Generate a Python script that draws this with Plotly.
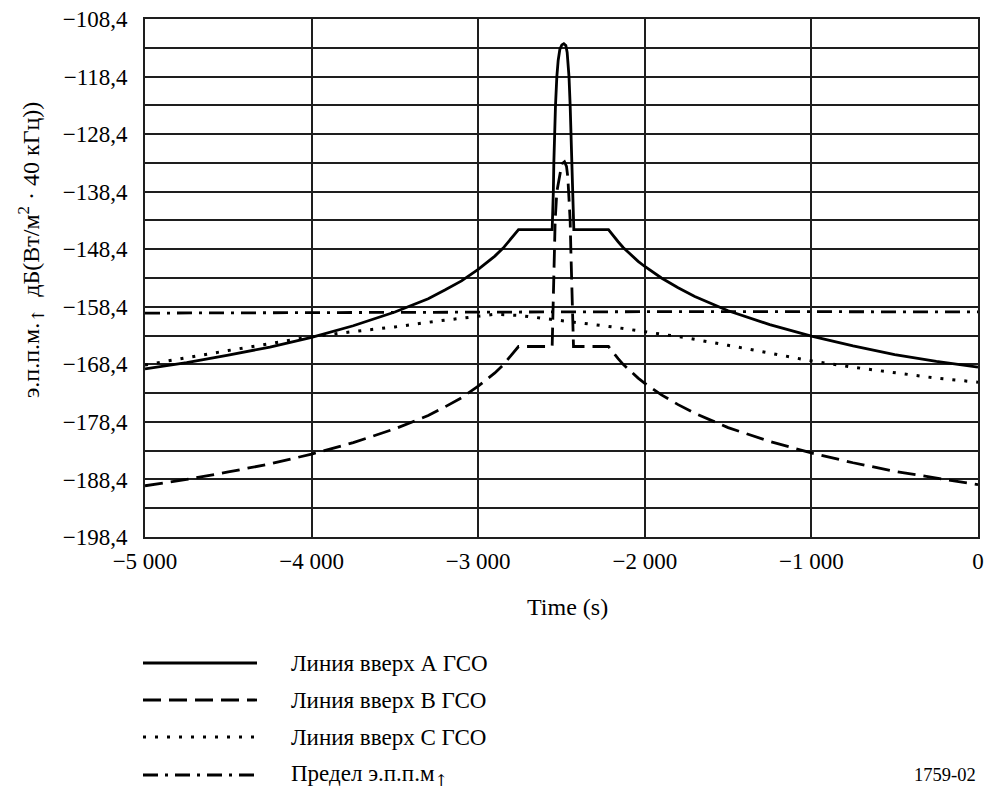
import plotly.graph_objects as go

# ---------------- data ----------------
# Series A: Линия вверх А ГСО (solid)
t_a = [-5000, -4750, -4500, -4250, -4000, -3750, -3500, -3300, -3200, -3100, -3000, -2950,
       -2900, -2850, -2820, -2790, -2758, -2556, -2552, -2549, -2546, -2542, -2536, -2528,
       -2520, -2510, -2498, -2486, -2474, -2466, -2460, -2455, -2448, -2442, -2437, -2433,
       -2429, -2426, -2218, -2190, -2160, -2130, -2090, -2040, -2000, -1900, -1800, -1700,
       -1500, -1250, -1000, -750, -500, -250, 0]
v_a = [-169.2, -168.1, -166.8, -165.4, -163.7, -161.7, -159.3, -157.0, -155.5, -153.9, -151.9, -150.8,
       -149.6, -148.2, -147.2, -146.2, -145.0, -145.0, -142.0, -138.4, -133.4, -128.4, -123.4, -118.4,
       -115.6, -113.7, -112.9, -112.7, -113.0, -114.2, -116.2, -118.4, -123.4, -128.4, -133.4, -138.4,
       -142.0, -145.0, -145.0, -146.1, -147.1, -148.1, -149.2, -150.5, -151.4, -153.4, -155.1, -156.6,
       -159.1, -161.5, -163.5, -165.2, -166.7, -167.9, -168.9]

# Series B: Линия вверх B ГСО (dashed)
t_b = [-5000, -4750, -4500, -4250, -4000, -3750, -3500, -3300, -3200, -3100, -3000, -2950,
       -2900, -2850, -2820, -2790, -2758, -2556, -2553, -2548, -2546, -2541, -2538, -2528,
       -2514, -2498, -2482, -2470, -2462, -2456, -2448, -2444, -2440, -2434, -2430, -2428,
       -2218, -2190, -2160, -2130, -2090, -2040, -2000, -1900, -1800, -1700, -1500, -1250,
       -1000, -750, -500, -250, 0]
v_b = [-189.5, -188.4, -187.1, -185.7, -184.0, -182.0, -179.6, -177.3, -175.8, -174.2, -172.2, -171.1,
       -169.9, -168.5, -167.5, -166.5, -165.3, -165.3, -162.0, -158.4, -153.4, -148.4, -143.4, -138.4,
       -135.9, -133.6, -133.2, -134.0, -135.9, -138.4, -143.4, -148.4, -153.4, -158.4, -162.0, -165.3,
       -165.3, -166.4, -167.4, -168.4, -169.5, -170.8, -171.7, -173.7, -175.4, -176.9, -179.4, -181.8,
       -183.8, -185.5, -187.0, -188.2, -189.3]

# Series C: Линия вверх C ГСО (dotted)
t_c = [-5000, -4750, -4500, -4250, -4000, -3750, -3500, -3250, -3000, -2900, -2754, -2624,
       -2474, -2334, -2196, -2046, -1904, -1750, -1500, -1250, -1000, -750, -500, -250, 0]
v_c = [-168.5, -167.2, -166.0, -164.8, -163.6, -162.7, -161.9, -160.9, -160.0, -159.7, -159.9, -160.4,
       -160.9, -161.4, -161.9, -162.5, -163.1, -163.8, -165.1, -166.5, -167.8, -168.9, -169.9, -170.8, -171.5]

# Limit: Предел э.п.п.м↑ (dash-dot)
t_d = [-5000, -4000, -3000, -2000, -1000, 0]
v_d = [-159.5, -159.4, -159.3, -159.25, -159.25, -159.3]

x_tickvals = [-5000, -4000, -3000, -2000, -1000, 0]
x_ticktext = ["−5 000", "−4 000", "−3 000", "−2 000", "−1 000", "0"]
y_gridvals = [-198.4 + 5 * i for i in range(19)]
y_ticktext = [("−%.1f" % abs(v)).replace(".", ",") if i % 2 == 0 else "" for i, v in enumerate(y_gridvals)]

ARROW = "<span style=\"font-family:'DejaVu Serif'\">↑</span>"
legend_names = ["Линия вверх А ГСО", "Линия вверх В ГСО", "Линия вверх С ГСО",
                "Предел э.п.п.м<sub>" + ARROW + "</sub>"]

# ---------------- styles ----------------
FONT = "Liberation Serif, Times New Roman, serif"
styles = [
    dict(width=2.8, dash="solid"),
    dict(width=2.8, dash="18px,8px"),
    dict(width=3.0, dash="3px,9px"),
    dict(width=2.8, dash="15px,7px,3px,7px"),
]

fig = go.Figure()
for (tx, vy), st, name in zip([(t_a, v_a), (t_b, v_b), (t_c, v_c), (t_d, v_d)], styles, legend_names):
    fig.add_trace(go.Scatter(x=tx, y=vy, mode="lines", name=name, showlegend=False,
                             line=dict(color="black", width=st["width"], dash=st["dash"])))

W, H = 988, 792
L, R, T, B = 145, 978, 19, 537


def px(X):
    return (X - L) / (R - L)


def py(Y):
    return (B - Y) / (B - T)


grid_col = "#1e1e1e"
fig.update_layout(
    width=W, height=H,
    margin=dict(l=L, r=W - R, t=T, b=H - B, autoexpand=False),
    paper_bgcolor="white", plot_bgcolor="white",
    font=dict(family=FONT, size=23, color="black"),
    xaxis=dict(range=[-5000, 0], tickmode="array", tickvals=x_tickvals, ticktext=x_ticktext,
               showgrid=True, gridcolor=grid_col, gridwidth=1.6, zeroline=False,
               showline=True, linecolor=grid_col, linewidth=1.6, mirror=True, automargin=False,
               ticks="", ticklabelstandoff=3, ticklabeloverflow="allow",
               tickfont=dict(size=23, family=FONT)),
    yaxis=dict(range=[-198.4, -108.4], tickmode="array", tickvals=y_gridvals, ticktext=y_ticktext,
               showgrid=True, gridcolor=grid_col, gridwidth=1.6, zeroline=False,
               showline=True, linecolor=grid_col, linewidth=1.6, mirror=True, automargin=False,
               ticks="", ticklabelstandoff=11, ticklabeloverflow="allow",
               tickfont=dict(size=23, family=FONT)),
)

# axis titles
fig.add_annotation(x=px(567), y=py(607), xref="paper", yref="paper", text="Time (s)",
                   showarrow=False, xanchor="center", yanchor="middle", font=dict(size=24, family=FONT))
fig.add_annotation(x=px(31), y=py(250), xref="paper", yref="paper",
                   text="э.п.п.м.<sub>" + ARROW + "</sub>  дБ(Вт/м<sup>2</sup> · 40 кГц))",
                   textangle=-90, showarrow=False, xanchor="center", yanchor="middle",
                   font=dict(size=24, family=FONT))

# manual legend
rows = [663, 700, 737, 775]
for Y, st, name in zip(rows, styles, legend_names):
    fig.add_shape(type="line", xref="paper", yref="paper", x0=px(143), x1=px(257), y0=py(Y), y1=py(Y),
                  line=dict(color="black", width=st["width"], dash=st["dash"]))
    fig.add_annotation(x=px(289), y=py(Y), xref="paper", yref="paper", text=name, showarrow=False,
                       xanchor="left", yanchor="middle", font=dict(size=23, family=FONT, color="black"))

fig.add_annotation(x=px(978), y=py(775), xref="paper", yref="paper", text="1759-02", showarrow=False,
                   xanchor="right", yanchor="middle", font=dict(size=18.5, family=FONT))

fig.write_html("out.html", config={"displayModeBar": False},
               post_script="document.body.style.margin='0';document.body.style.overflow='hidden';")
